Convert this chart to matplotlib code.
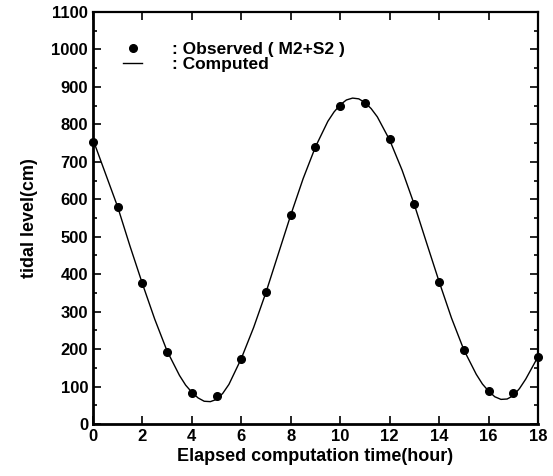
import numpy as np
import matplotlib
matplotlib.use("Agg")
import matplotlib.pyplot as plt
from matplotlib.ticker import MultipleLocator
from matplotlib.lines import Line2D

# observed tide (hourly)
obs_hour = [0, 1, 2, 3, 4, 5, 6, 7, 8, 9, 10, 11, 12, 13, 14, 15, 16, 17, 18]
obs_level = [754, 580, 376, 193, 82, 76, 174, 352, 558, 740, 849, 856, 760, 587, 380, 197, 89, 82, 180]

# computed curve (finer near the turning points)
calc_hour = [0, 0.5, 1, 1.5, 2, 2.5, 3, 3.5, 3.75, 4, 4.25, 4.5, 4.75, 5, 5.25, 5.5,
             6, 6.5, 7, 7.5, 8, 8.5, 9, 9.5, 9.75, 10, 10.25, 10.5, 10.75, 11, 11.25, 11.5,
             12, 12.5, 13, 13.5, 14, 14.5, 15, 15.5, 15.75, 16, 16.25, 16.5, 16.75, 17, 17.25, 17.5, 18]
calc_level = [760, 670, 580, 475, 375, 280, 195, 130, 104, 85, 70, 61, 60, 66, 82, 106,
              175, 258, 352, 455, 558, 655, 740, 808, 833, 852, 865, 870, 868, 858, 842, 820,
              758, 678, 585, 482, 380, 283, 198, 133, 107, 88, 73, 66, 67, 76, 95, 120, 180]

plt.rcParams['font.family'] = ['Liberation Sans', 'DejaVu Sans']
plt.rcParams['font.weight'] = 'bold'

fig = plt.figure(figsize=(5.53, 4.76), dpi=100)
ax = fig.add_axes([0.168, 0.109, 0.805, 0.866])

ax.plot(calc_hour, calc_level, color='black', lw=1.0)
ax.plot(obs_hour, obs_level, 'o', color='black', markersize=5.5, clip_on=False)

ax.set_xlim(0, 18)
ax.set_ylim(0, 1100)
ax.xaxis.set_major_locator(MultipleLocator(2))
ax.yaxis.set_major_locator(MultipleLocator(100))
ax.yaxis.set_minor_locator(MultipleLocator(50))
ax.tick_params(which='both', direction='in', top=True, right=True, labelsize=12, width=1.2)
ax.tick_params(which='major', length=6)
ax.tick_params(which='minor', length=3)
ax.tick_params(axis='y', which='both', right=True)
for s in ax.spines.values():
    s.set_linewidth(1.6)
ax.spines['left'].set_linewidth(2)
ax.spines['bottom'].set_linewidth(2)
for lab in ax.get_xticklabels() + ax.get_yticklabels():
    lab.set_fontweight('bold')

ax.set_xlabel('Elapsed computation time(hour)', fontsize=13, fontweight='bold', labelpad=3)
ax.set_ylabel('tidal level(cm)', fontsize=13, fontweight='bold', labelpad=10)

handles = [Line2D([], [], marker='o', color='black', ls='none', markersize=5.5),
           Line2D([], [], color='black', lw=1.0)]
ax.legend(handles, [': Observed ( M2+S2 )', ': Computed'], loc='upper left',
          bbox_to_anchor=(0.052, 0.945), frameon=False, fontsize=12.5,
          labelspacing=0.0, handlelength=1.1, handletextpad=1.7, borderaxespad=0)

fig.savefig('out.png', dpi=100)
